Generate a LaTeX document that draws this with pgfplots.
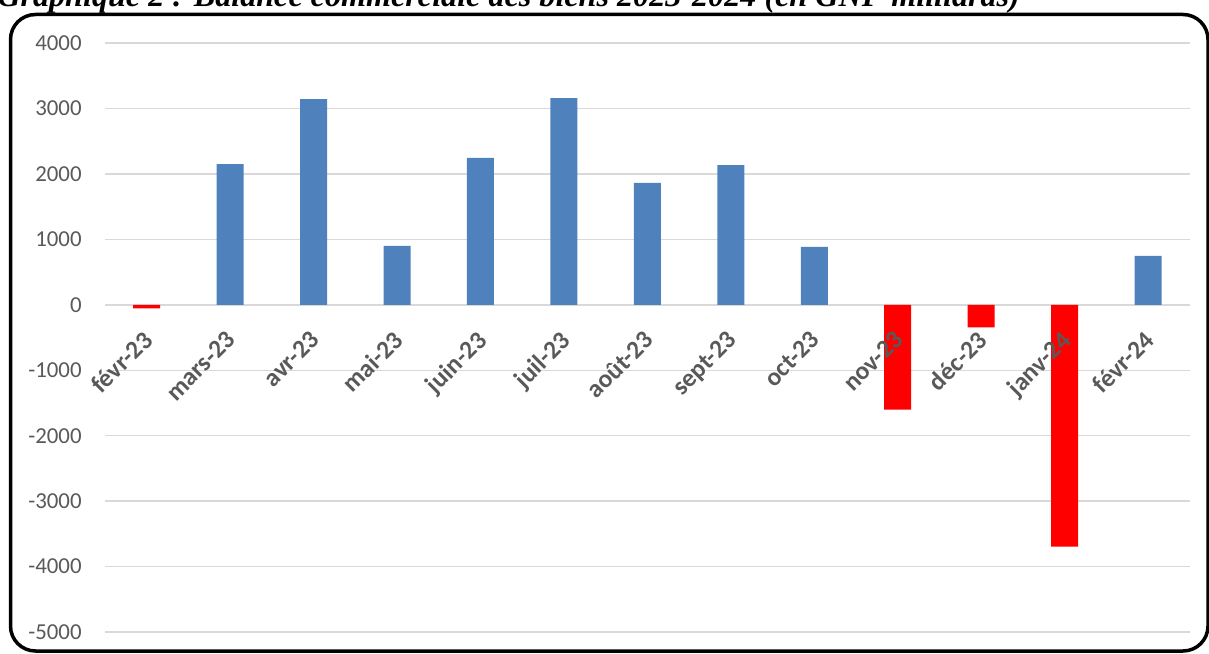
\documentclass[border=0pt]{standalone}
\usepackage{fontspec}
\setmainfont{Carlito}
\newfontfamily\titlefont{Liberation Serif}
\usepackage{pgfplots}
\pgfplotsset{compat=1.18}
\definecolor{barblue}{HTML}{4F81BD}
\definecolor{barred}{HTML}{FF0000}
\definecolor{gridgray}{HTML}{D9D9D9}
\definecolor{labgray}{HTML}{595959}
\pgfplotsset{
  commonaxis/.style={
    at={(2.1cm,0.42cm)}, anchor=south west,
    scale only axis, width=21.7cm, height=11.78cm,
    xmin=-0.5, xmax=12.5, ymin=-5000, ymax=4000,
    ytick={-5000,-4000,...,4000},
    xtick={0,...,12},
    axis line style={draw=none},
    major tick length=0pt,
  }
}
\begin{document}
\begin{tikzpicture}[x=0.02cm,y=0.02cm]
\useasboundingbox (0,0) rectangle (1209,653);
\draw[line width=0.07cm, rounded corners=0.5cm] (10.5,638.5) rectangle (1208,2);
\node[anchor=base west, inner sep=0pt, font=\titlefont\bfseries\itshape\fontsize{18.3}{20}\selectfont] at (-3,646) {Graphique 2 : Balance commerciale des biens 2023-2024 (en GNF milliards)};
% bars and grid
\begin{axis}[
  commonaxis,
  xticklabels={},
  yticklabels={},
  ymajorgrids, grid style={gridgray, line width=0.03cm},
  ybar, bar width=0.54cm,
]
\addplot[fill=barblue, draw=none, bar shift=0pt] coordinates {
 (1,2150) (2,3145) (3,900) (4,2245) (5,3160) (6,1863) (7,2137) (8,885) (12,748)};
\addplot[fill=barred, draw=none, bar shift=0pt] coordinates {
 (0,-55) (9,-1603) (10,-345) (11,-3695)};
\end{axis}
% tick labels on top
\begin{axis}[
  commonaxis,
  xticklabels={févr-23,mars-23,avr-23,mai-23,juin-23,juil-23,août-23,sept-23,oct-23,nov-23,déc-23,janv-24,févr-24},
  /pgf/number format/assume math mode=true,
  /pgf/number format/1000 sep={},
  yticklabel style={font=\fontsize{13}{15}\selectfont, text=labgray, anchor=east, inner sep=0pt, xshift=-0.46cm},
  xticklabel style={yshift=6.06cm, xshift=-0.1cm, rotate=45, anchor=north east, inner sep=0pt, font=\bfseries\fontsize{14.5}{16}\selectfont, text=labgray},
]
\end{axis}
\end{tikzpicture}
\end{document}
